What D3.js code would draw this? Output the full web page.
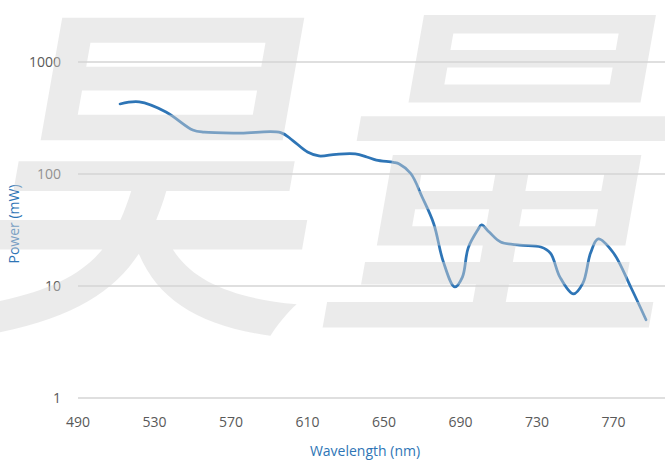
<!DOCTYPE html>
<html><head><meta charset="utf-8">
<script src="https://cdn.jsdelivr.net/npm/d3@7"></script>
<style>html,body{margin:0;padding:0;background:#fff;}svg{display:block;}</style>
</head><body>
<script>
const wavelength = [512,522,536,550,556,575,596,602,610,616,625,635,641,646,655,658,664,670,676,681,687,691,694,699,701,705,711,721,732,737,742,749,754,758,762,770,779,787];
const power      = [422,440,358,247,236,232,234,201,157,145,150,151,142,133,127,123,101,62,36,16.5,9.8,12.0,21.8,31.6,35.1,30.3,24.7,23.2,22.3,19.7,12.0,8.5,10.6,19.7,26.3,19.7,9.8,5.0];
const xTicks = [490,530,570,610,650,690,730,770];
const yTicks = [1,10,100,1000];
const watermark = "昊量";

const W = 665, H = 461;
const svg = d3.select("body").append("svg").attr("width", W).attr("height", H);

const x = d3.scaleLinear().domain([490, 810]).range([78, 78 + 320 * 1.9125]);
const y = d3.scaleLog().domain([1, 1000]).range([398, 62]);

svg.append("g").selectAll("line").data(yTicks).join("line")
  .attr("x1", x(490)).attr("x2", W)
  .attr("y1", d => y(d)).attr("y2", d => y(d))
  .attr("stroke", "#bfbfbf").attr("stroke-width", 1);

svg.append("g").selectAll("text").data(yTicks).join("text")
  .attr("x", 61).attr("y", d => y(d) + 5)
  .attr("text-anchor", "end")
  .attr("font-family", "Open Sans").attr("font-size", 14).attr("fill", "#595959")
  .text(d => d);

svg.append("g").selectAll("text").data(xTicks).join("text")
  .attr("x", d => x(d)).attr("y", 427)
  .attr("text-anchor", "middle")
  .attr("font-family", "Open Sans").attr("font-size", 14).attr("fill", "#595959")
  .text(d => d);

svg.append("text").attr("x", 365).attr("y", 456).attr("text-anchor", "middle")
  .attr("font-family", "Open Sans").attr("font-size", 14).attr("fill", "#2E75B6")
  .text("Wavelength (nm)");
svg.append("text").attr("transform", "translate(19,224) rotate(-90)").attr("text-anchor", "middle")
  .attr("font-family", "Open Sans").attr("font-size", 14).attr("fill", "#2E75B6")
  .text("Power (mW)");

const pts = wavelength.map((w, i) => [w, power[i]]);
svg.append("path").datum(pts)
  .attr("fill", "none").attr("stroke", "#2E75B6").attr("stroke-width", 2.75)
  .attr("stroke-linecap", "round").attr("stroke-linejoin", "round")
  .attr("d", d3.line().x(d => x(d[0])).y(d => y(d[1])).curve(d3.curveCatmullRom.alpha(0.5)));

// watermark overlay (semi-transparent, on top like the reference)
svg.append("text")
  .attr("transform", "translate(-48,306) skewX(-10)")
  .attr("font-family", "Noto Sans CJK SC").attr("font-weight", 500)
  .attr("font-size", 358).attr("fill", "#d4d4d4").attr("opacity", 0.45)
  .text(watermark);
</script>
</body></html>
